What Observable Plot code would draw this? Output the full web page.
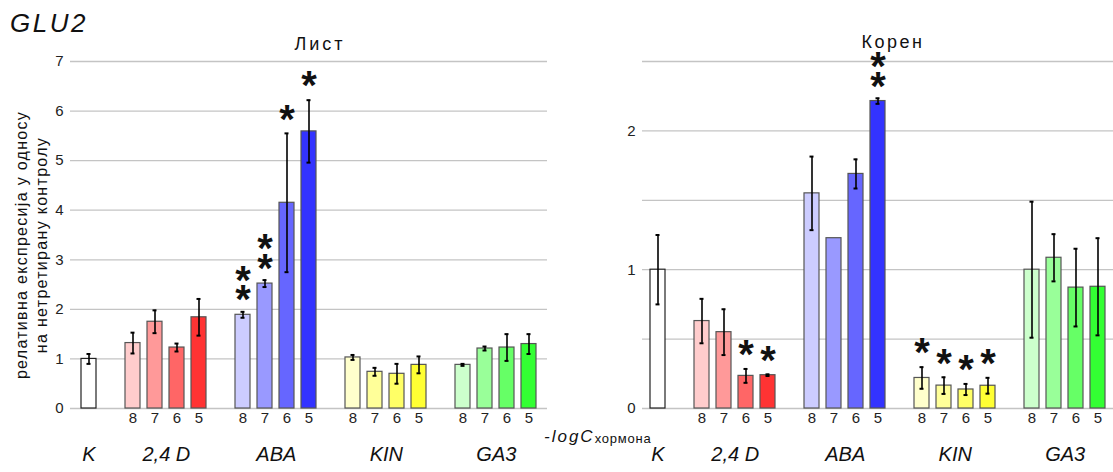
<!DOCTYPE html>
<html><head><meta charset="utf-8">
<script src="https://cdn.jsdelivr.net/npm/d3@7"></script>
<script src="https://cdn.jsdelivr.net/npm/@observablehq/plot@0.6"></script>
<style>
body{margin:0;background:#fff;}
#root{position:relative;width:1113px;height:472px;overflow:hidden;font-family:"Liberation Sans",Arial,sans-serif;color:#222;}
.abs{position:absolute;white-space:nowrap;}
#root svg{position:absolute;top:0;overflow:visible;}
</style></head><body><div id="root"></div>
<script>
// ---- data ----
const groups = ["K", "2,4 D", "ABA", "KIN", "GA3"];
const concLabels = ["8", "7", "6", "5"];
const colors = ["#ffffff",
  "#ffcccc", "#ff9999", "#ff6666", "#ff3333",
  "#ccccff", "#9999ff", "#6666ff", "#3333ff",
  "#ffffcc", "#ffff99", "#ffff66", "#ffff33",
  "#ccffcc", "#99ff99", "#66ff66", "#33ff33"];
const leafMean = [1.00, 1.32, 1.75, 1.23, 1.84, 1.89, 2.52, 4.15, 5.59, 1.03, 0.74, 0.70, 0.88, 0.88, 1.21, 1.23, 1.30];
const leafErr  = [0.10, 0.21, 0.23, 0.08, 0.37, 0.06, 0.07, 1.40, 0.63, 0.05, 0.08, 0.20, 0.17, 0.02, 0.04, 0.27, 0.20];
const leafStars = [0, 0, 0, 0, 0, 2, 2, 1, 1, 0, 0, 0, 0, 0, 0, 0, 0];
const rootMean = [1.00, 0.63, 0.55, 0.235, 0.24, 1.55, 1.227, 1.69, 2.215, 0.22, 0.165, 0.137, 0.164, 1.00, 1.086, 0.871, 0.877];
const rootErr  = [0.25, 0.16, 0.165, 0.05, 0.006, 0.265, 0, 0.105, 0.02, 0.078, 0.06, 0.04, 0.057, 0.49, 0.17, 0.28, 0.35];
const rootStars = [0, 0, 0, 1, 1, 0, 0, 0, 2, 1, 1, 1, 1, 0, 0, 0, 0];
const leafTicks = [0, 1, 2, 3, 4, 5, 6, 7];
const rootGrid = [0, 0.5, 1, 1.5, 2, 2.5];
const rootTicks = [0, 1, 2];
const panelTitles = ["Лист", "Корен"];

// ---- build categorical layout ----
const bars = []; // {id, group, conc}
bars.push({id: "K", group: "K", conc: ""});
const domain = ["K"];
groups.slice(1).forEach((g, gi) => {
  domain.push("gap" + gi);
  concLabels.forEach(c => { const id = g + " " + c; domain.push(id); bars.push({id, group: g, conc: c}); });
});
const concOf = new Map(bars.map(b => [b.id, b.conc]));

function rows(mean, err, stars) {
  return bars.map((b, i) => ({...b, mean: mean[i], err: err[i], stars: stars[i], color: colors[i], stroke: b.group === "K" ? "#222" : "#555"}));
}

const root = document.getElementById("root");
const font = "'Liberation Sans', Arial, sans-serif";

function panel({data, left, width, marginLeft, marginRight, yDomain, gridTicks, labelTicks}) {
  const step = (width - marginLeft - marginRight) / domain.length;
  const groupLabels = groups.map(g => g === "K" ? {g, x: "K", dx: 0} : {g, x: g + " 7", dx: step / 2});
  const starStyle = {x: "id", y: d => d.mean + d.err, fontSize: 40, fontWeight: "bold", fill: "#111", lineAnchor: "middle", lineHeight: 0.49};
  const p = Plot.plot({
    width, height: 472,
    marginLeft, marginRight, marginTop: 61, marginBottom: 64,
    style: {fontFamily: font, fontSize: "15px", color: "#222", background: "transparent", overflow: "visible"},
    x: {domain, paddingInner: 0.31, paddingOuter: 0.155, axis: null},
    y: {domain: yDomain, axis: null},
    marks: [
      Plot.gridY(gridTicks, {stroke: "#c4c4c4", strokeOpacity: 1, strokeWidth: 1.3}),
      Plot.axisY(labelTicks, {tickSize: 0, tickPadding: 7, fontSize: 15, fill: "#222", tickFormat: d3.format("d"), label: null}),
      Plot.axisX({tickSize: 0, tickPadding: 4, fontSize: 15, fill: "#222", tickFormat: d => concOf.get(d) || "", label: null}),
      Plot.barY(data, {x: "id", y: "mean", fill: "color", stroke: "stroke", strokeWidth: 1.2}),
      Plot.ruleX(data.filter(d => d.err > 0), {x: "id", y1: d => d.mean - d.err, y2: d => d.mean + d.err, stroke: "#000", strokeWidth: 1.6}),
      Plot.tickY(data.filter(d => d.err > 0), {x: "id", y: d => d.mean + d.err, stroke: "#000", strokeWidth: 2, insetLeft: 5.5, insetRight: 5.5}),
      Plot.tickY(data.filter(d => d.err > 0), {x: "id", y: d => d.mean - d.err, stroke: "#000", strokeWidth: 2, insetLeft: 5.5, insetRight: 5.5}),
      Plot.text(data.filter(d => d.stars === 1), {...starStyle, text: () => "*", dy: -7}),
      Plot.text(data.filter(d => d.stars === 2), {...starStyle, text: () => "*\n*", dy: -14.5}),
      Plot.text(groupLabels.filter(d => d.dx === 0), {x: "x", frameAnchor: "bottom", text: "g", fontSize: 20, fontStyle: "italic", fill: "#111", dy: 52}),
      Plot.text(groupLabels.filter(d => d.dx !== 0), {x: "x", frameAnchor: "bottom", text: "g", fontSize: 20, fontStyle: "italic", fill: "#111", dy: 52, dx: step / 2})
    ]
  });
  p.style.left = left + "px";
  root.appendChild(p);
}

panel({data: rows(leafMean, leafErr, leafStars), left: 0, width: 560, marginLeft: 70, marginRight: 13, yDomain: [0, 7], gridTicks: leafTicks, labelTicks: leafTicks});
panel({data: rows(rootMean, rootErr, rootStars), left: 560, width: 553, marginLeft: 82, marginRight: 0, yDomain: [0, 2.5], gridTicks: rootGrid, labelTicks: rootTicks});

// ---- texts ----
function addText(html, css) {
  const d = document.createElement("div");
  d.className = "abs";
  d.innerHTML = html;
  Object.assign(d.style, css);
  root.appendChild(d);
  return d;
}
addText("GLU2", {left: "10px", top: "8px", fontSize: "26px", fontStyle: "italic", letterSpacing: "2.5px", color: "#111"});
addText(panelTitles[0], {left: "320px", top: "34px", transform: "translateX(-50%)", fontSize: "18px", letterSpacing: "3px", color: "#111"});
addText(panelTitles[1], {left: "893px", top: "32px", transform: "translateX(-50%)", fontSize: "18px", letterSpacing: "2.5px", color: "#111"});
addText("релативна експресија у односу<br>на нетретирану контролу", {left: "32px", top: "245px", transform: "translate(-50%,-50%) rotate(-90deg)", fontSize: "16px", letterSpacing: "1.3px", lineHeight: "20px", textAlign: "center", color: "#111"});
addText("<i style='letter-spacing:2px'>-logC</i><span style='font-size:13px;letter-spacing:0.8px;position:relative;top:1px'>хормона</span>", {left: "544px", top: "427px", fontSize: "17px", color: "#111"});
</script></body></html>
